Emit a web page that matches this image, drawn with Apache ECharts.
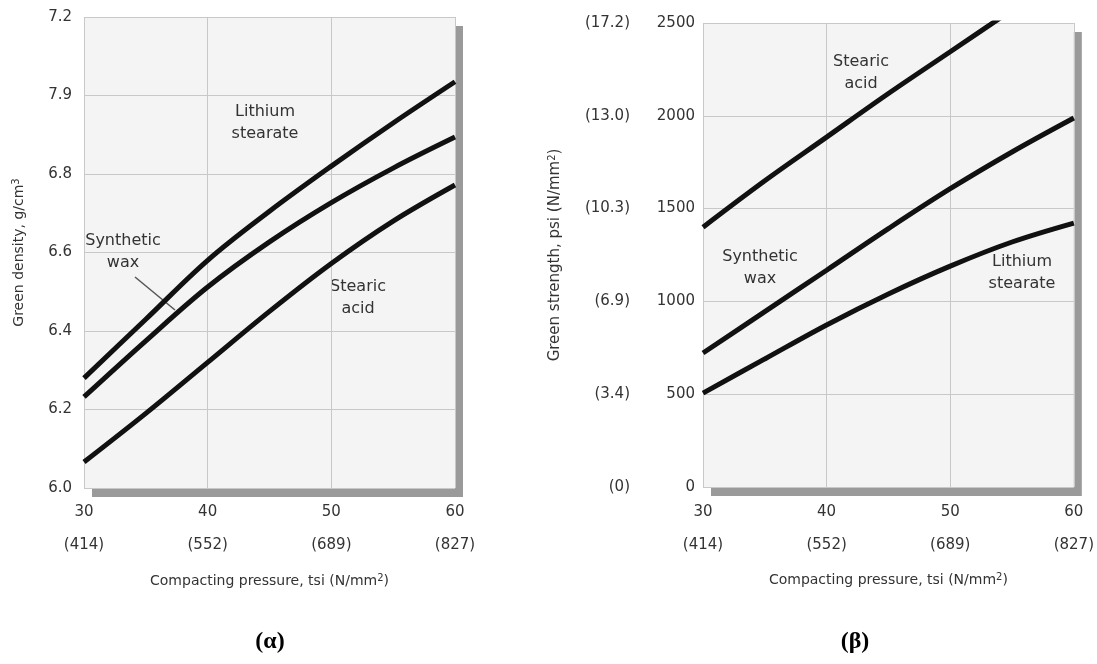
<!DOCTYPE html>
<html>
<head>
<meta charset="utf-8">
<script src="https://cdn.jsdelivr.net/npm/echarts@6/dist/echarts.min.js"></script>
<style>
  html, body { margin: 0; padding: 0; background: #fff; }
  #chart { width: 1097px; height: 664px; }
</style>
</head>
<body>
<div id="chart"></div>
<script>
  // compacting pressure, tsi (same points for both panels)
  var pressure = [30, 35, 40, 45, 50, 55, 60];
  var pressureTicks = ['30', '40', '50', '60'];
  var pressureMm = ['(414)', '(552)', '(689)', '(827)'];

  // (a) green density, g/cm3
  var densityLithium = [6.28, 6.43, 6.58, 6.705, 6.82, 6.93, 7.035];
  var densityWax = [6.232, 6.375, 6.512, 6.627, 6.727, 6.815, 6.894];
  var densityStearic = [6.066, 6.19, 6.32, 6.45, 6.572, 6.68, 6.772];
  var densityTicks = ['6.0', '6.2', '6.4', '6.6', '6.8', '7.9', '7.2'];

  // (b) green strength, psi
  var strengthStearic = [1400, 1650, 1885, 2120, 2345, 2570, 2790];
  var strengthWax = [722, 945, 1168, 1392, 1607, 1805, 1988];
  var strengthLithium = [506, 690, 873, 1040, 1190, 1320, 1422];
  var strengthTicks = ['0', '500', '1000', '1500', '2000', '2500'];
  var strengthMm = ['(0)', '(3.4)', '(6.9)', '(10.3)', '(13.0)', '(17.2)'];

  var font = 'DejaVu Sans';
  var txt = '#333';

  function pairs(ys) {
    return pressure.map(function (x, i) { return [x, ys[i]]; });
  }

  function curve(xi, yi, ys) {
    return {
      type: 'line', xAxisIndex: xi, yAxisIndex: yi,
      data: pairs(ys), smooth: 0.35, symbol: 'none',
      lineStyle: { color: '#111', width: 5 }
    };
  }

  function gridBox(left, top, width, height) {
    return {
      left: left, top: top, width: width, height: height, show: true,
      backgroundColor: '#f4f4f4', borderWidth: 0,
      shadowColor: '#9a9a9a', shadowBlur: 0, shadowOffsetX: 8, shadowOffsetY: 9
    };
  }

  function xAxisFor(gi, margin) {
    return {
      type: 'value', gridIndex: gi, min: 30, max: 60, interval: 10,
      axisLine: { show: false }, axisTick: { show: false },
      splitLine: { lineStyle: { color: '#c8c8c8', width: 1 } },
      axisLabel: {
        margin: margin,
        formatter: function (v) {
          var i = Math.round((v - 30) / 10);
          return '{a|' + pressureTicks[i] + '}\n{b|' + pressureMm[i] + '}';
        },
        rich: {
          a: { fontFamily: font, fontSize: 15, color: txt, lineHeight: 20 },
          b: { fontFamily: font, fontSize: 15, color: txt, lineHeight: 46 }
        }
      },
      name: 'Compacting pressure, tsi (N/mm{sup|2})',
      nameLocation: 'middle', nameGap: 85,
      nameTextStyle: {
        fontFamily: font, fontSize: 14, color: txt,
        rich: { sup: { fontFamily: font, fontSize: 10, color: txt, verticalAlign: 'top', padding: [0, 0, 6, 0] } }
      }
    };
  }

  function label(text, x, y) {
    return {
      type: 'text', x: x, y: y,
      style: {
        text: text, fill: txt, font: '16px "' + font + '"',
        align: 'center', verticalAlign: 'middle', lineHeight: 22
      }
    };
  }

  var chart = echarts.init(document.getElementById('chart'));

  chart.setOption({
    animation: false,
    backgroundColor: '#fff',
    grid: [gridBox(84, 17, 371, 471), gridBox(703, 23, 372, 464)],
    xAxis: [xAxisFor(0, 14), xAxisFor(1, 15)],
    yAxis: [
      {
        type: 'value', gridIndex: 0, min: 6.0, max: 7.2, interval: 0.2,
        axisLine: { show: false }, axisTick: { show: false },
        splitLine: { lineStyle: { color: '#c8c8c8', width: 1 } },
        axisLabel: {
          margin: 12, fontFamily: font, fontSize: 15, color: txt,
          formatter: function (v) { return densityTicks[Math.round((v - 6) / 0.2)]; }
        },
        name: 'Green density, g/cm{sup|3}',
        nameLocation: 'middle', nameGap: 57,
        nameTextStyle: {
          fontFamily: font, fontSize: 14, color: txt,
          rich: { sup: { fontFamily: font, fontSize: 10, color: txt, verticalAlign: 'top', padding: [0, 0, 6, 0] } }
        }
      },
      {
        type: 'value', gridIndex: 1, min: 0, max: 2500, interval: 500,
        axisLine: { show: false }, axisTick: { show: false },
        splitLine: { lineStyle: { color: '#c8c8c8', width: 1 } },
        axisLabel: {
          margin: 8, fontFamily: font, fontSize: 15, color: txt,
          formatter: function (v) { return strengthTicks[Math.round(v / 500)]; }
        }
      },
      {
        type: 'value', gridIndex: 1, min: 0, max: 2500, interval: 500,
        position: 'left', offset: 60,
        axisLine: { show: false }, axisTick: { show: false }, splitLine: { show: false },
        axisLabel: {
          margin: 13, fontFamily: font, fontSize: 15, color: txt,
          formatter: function (v) { return strengthMm[Math.round(v / 500)]; }
        },
        name: 'Green strength, psi (N/mm{sup|2})',
        nameLocation: 'middle', nameGap: 80,
        nameTextStyle: {
          fontFamily: font, fontSize: 15, color: txt,
          rich: { sup: { fontFamily: font, fontSize: 10, color: txt, verticalAlign: 'top', padding: [0, 0, 6, 0] } }
        }
      }
    ],
    series: [
      curve(0, 0, densityLithium),
      curve(0, 0, densityWax),
      curve(0, 0, densityStearic),
      curve(1, 1, strengthStearic),
      curve(1, 1, strengthWax),
      curve(1, 1, strengthLithium)
    ],
    graphic: [
      label('Lithium\nstearate', 265, 123),
      label('Synthetic\nwax', 123, 252),
      label('Stearic\nacid', 358, 298),
      {
        type: 'line',
        shape: { x1: 135, y1: 277, x2: 175, y2: 310 },
        style: { stroke: '#555', lineWidth: 1.5 }
      },
      label('Stearic\nacid', 861, 73),
      label('Synthetic\nwax', 760, 268),
      label('Lithium\nstearate', 1022, 273),
      {
        type: 'text', x: 270, y: 642,
        style: { text: '(α)', fill: '#000', font: 'bold 24px "Liberation Serif"', align: 'center', verticalAlign: 'middle' }
      },
      {
        type: 'text', x: 855, y: 642,
        style: { text: '(β)', fill: '#000', font: 'bold 24px "Liberation Serif"', align: 'center', verticalAlign: 'middle' }
      }
    ]
  });
</script>
</body>
</html>
